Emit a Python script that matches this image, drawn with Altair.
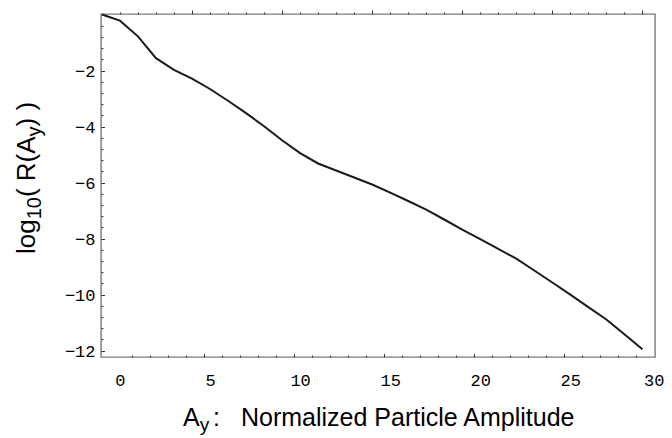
import altair as alt
import pandas as pd

# ---- data ----
amplitude = list(range(-1, 30))
log_r = [0.0, -0.22, -0.78, -1.56, -1.98, -2.29, -2.66, -3.08, -3.52, -3.99,
         -4.49, -4.95, -5.32, -5.57, -5.82, -6.07, -6.36, -6.66, -6.97, -7.32,
         -7.68, -8.02, -8.37, -8.72, -9.14, -9.57, -10.0, -10.45, -10.89, -11.42,
         -11.95]

x_label_values = [0, 5, 10, 15, 20, 25, 29.69]   # last one is drawn as "30" at the frame edge
y_label_values = [-2, -4, -6, -8, -10, -12]
top_tick_values = list(range(0, 30))
bottom_tick_values = [round(k - 1 / 3, 4) for k in range(1, 30)]
left_tick_values = [round(-0.4 * k, 4) for k in range(1, 31)]

df = pd.DataFrame({"A": amplitude, "R": log_r})
one = pd.DataFrame({"t": [0]})

W, H = 554, 343
xs = alt.Scale(domain=[-1.05, 29.7], nice=False, zero=False)
ys = alt.Scale(domain=[-12.23, 0.018], nice=False, zero=False)

MONO = "Liberation Mono"
SANS = "Liberation Sans"
TICK = "#333333"

axis_bottom_labels = alt.Axis(orient="bottom", values=x_label_values, ticks=False, domain=False,
                              grid=False, labelPadding=15, labelFont=MONO, labelFontSize=17,
                              labelColor="black", labelFlush=False, labelOverlap=False,
                              labelBound=False, title=None,
                              labelExpr="datum.value > 29 ? '30' : format(datum.value, 'd')",
                              labelOffset={"condition": {"test": "datum.value > 29", "value": -1}, "value": 0})
axis_left_labels = alt.Axis(orient="left", values=y_label_values, ticks=False, domain=False,
                            grid=False, labelPadding=6, labelFont=MONO, labelFontSize=17,
                            labelColor="black", labelOverlap=False, labelFlush=False,
                            labelOffset=1, title=None, format="d")

axis_bottom_ticks = alt.Axis(orient="top", offset=-H, values=bottom_tick_values, labels=False,
                             domain=False, grid=False, tickColor=TICK, tickWidth=1,
                             tickSize={"condition": {"test": "abs((datum.value + 0.3333) % 5) < 0.01", "value": 3.5}, "value": 2},
                             title=None)
axis_left_ticks = alt.Axis(orient="right", offset=-W, values=left_tick_values, labels=False,
                           domain=False, grid=False, tickColor=TICK, tickWidth=1,
                           tickSize={"condition": {"test": "abs(datum.value % 2) < 0.01", "value": 3.5}, "value": 2},
                           title=None)
axis_top_ticks = alt.Axis(orient="top", values=top_tick_values, labels=False, domain=False,
                          grid=False, tickColor=TICK, tickWidth=1,
                          tickSize={"condition": {"test": "abs((datum.value + 1) % 5) < 0.01", "value": 4}, "value": 2},
                          title=None)

line = alt.Chart(df).mark_line(color="#1a1a1a", strokeWidth=2).encode(
    x=alt.X("A:Q", scale=xs, axis=axis_bottom_labels),
    y=alt.Y("R:Q", scale=ys, axis=axis_left_labels),
)
ticks_a = alt.Chart(df).mark_line(opacity=0).encode(
    x=alt.X("A:Q", scale=xs, axis=axis_bottom_ticks),
    y=alt.Y("R:Q", scale=ys, axis=axis_left_ticks),
)
ticks_b = alt.Chart(df).mark_line(opacity=0).encode(
    x=alt.X("A:Q", scale=xs, axis=axis_top_ticks),
    y=alt.Y("R:Q", scale=ys, axis=None),
)

# ---- axis titles with subscripts (text pieces) ----
AW = {'l': .222, 'o': .556, 'g': .556, '1': .556, '0': .556, '(': .333, ' ': .278,
      'R': .722, 'A': .667, 'y': .5, ')': .333}


def tw(s, size):
    return sum(AW.get(c, .556) for c in s) * size


def piece(text, x, y, size, angle=0):
    return alt.Chart(one).mark_text(text=text, font=SANS, fontSize=size, align="left",
                                    baseline="alphabetic", color="black", angle=angle).encode(
        x=alt.value(x), y=alt.value(y))


TF = 25
SF = 19
xb = 412
texts = [
    piece("A", 82, xb, TF),
    piece("y", 82 + tw("A", TF), xb + 5, SF),
    piece(":", 112, xb, TF),
    piece("Normalized Particle Amplitude", 140, xb, TF),
]

# rotated y title, running upward
YF = 26
YS = 20
yb = -66
ystart = 240
parts = [("log", YF, 0), ("10", YS, 6), ("( R(A", YF, 0), ("y", YS, 6), (") )", YF, 0)]
pos = ystart
for txt, sz, sh in parts:
    texts.append(piece(txt, yb + sh, pos, sz, angle=270))
    pos -= tw(txt, sz)

chart = alt.layer(line, ticks_a, ticks_b, *texts).resolve_axis(
    x="independent", y="independent"
).properties(
    width=W, height=H,
    padding={"left": 93, "top": 6, "right": 9, "bottom": 79},
    autosize=alt.AutoSizeParams(type="none"),
).configure_view(stroke="#7a7a7a", strokeWidth=1.4)

chart.save("out.html", embed_options={"renderer": "svg", "actions": False})
